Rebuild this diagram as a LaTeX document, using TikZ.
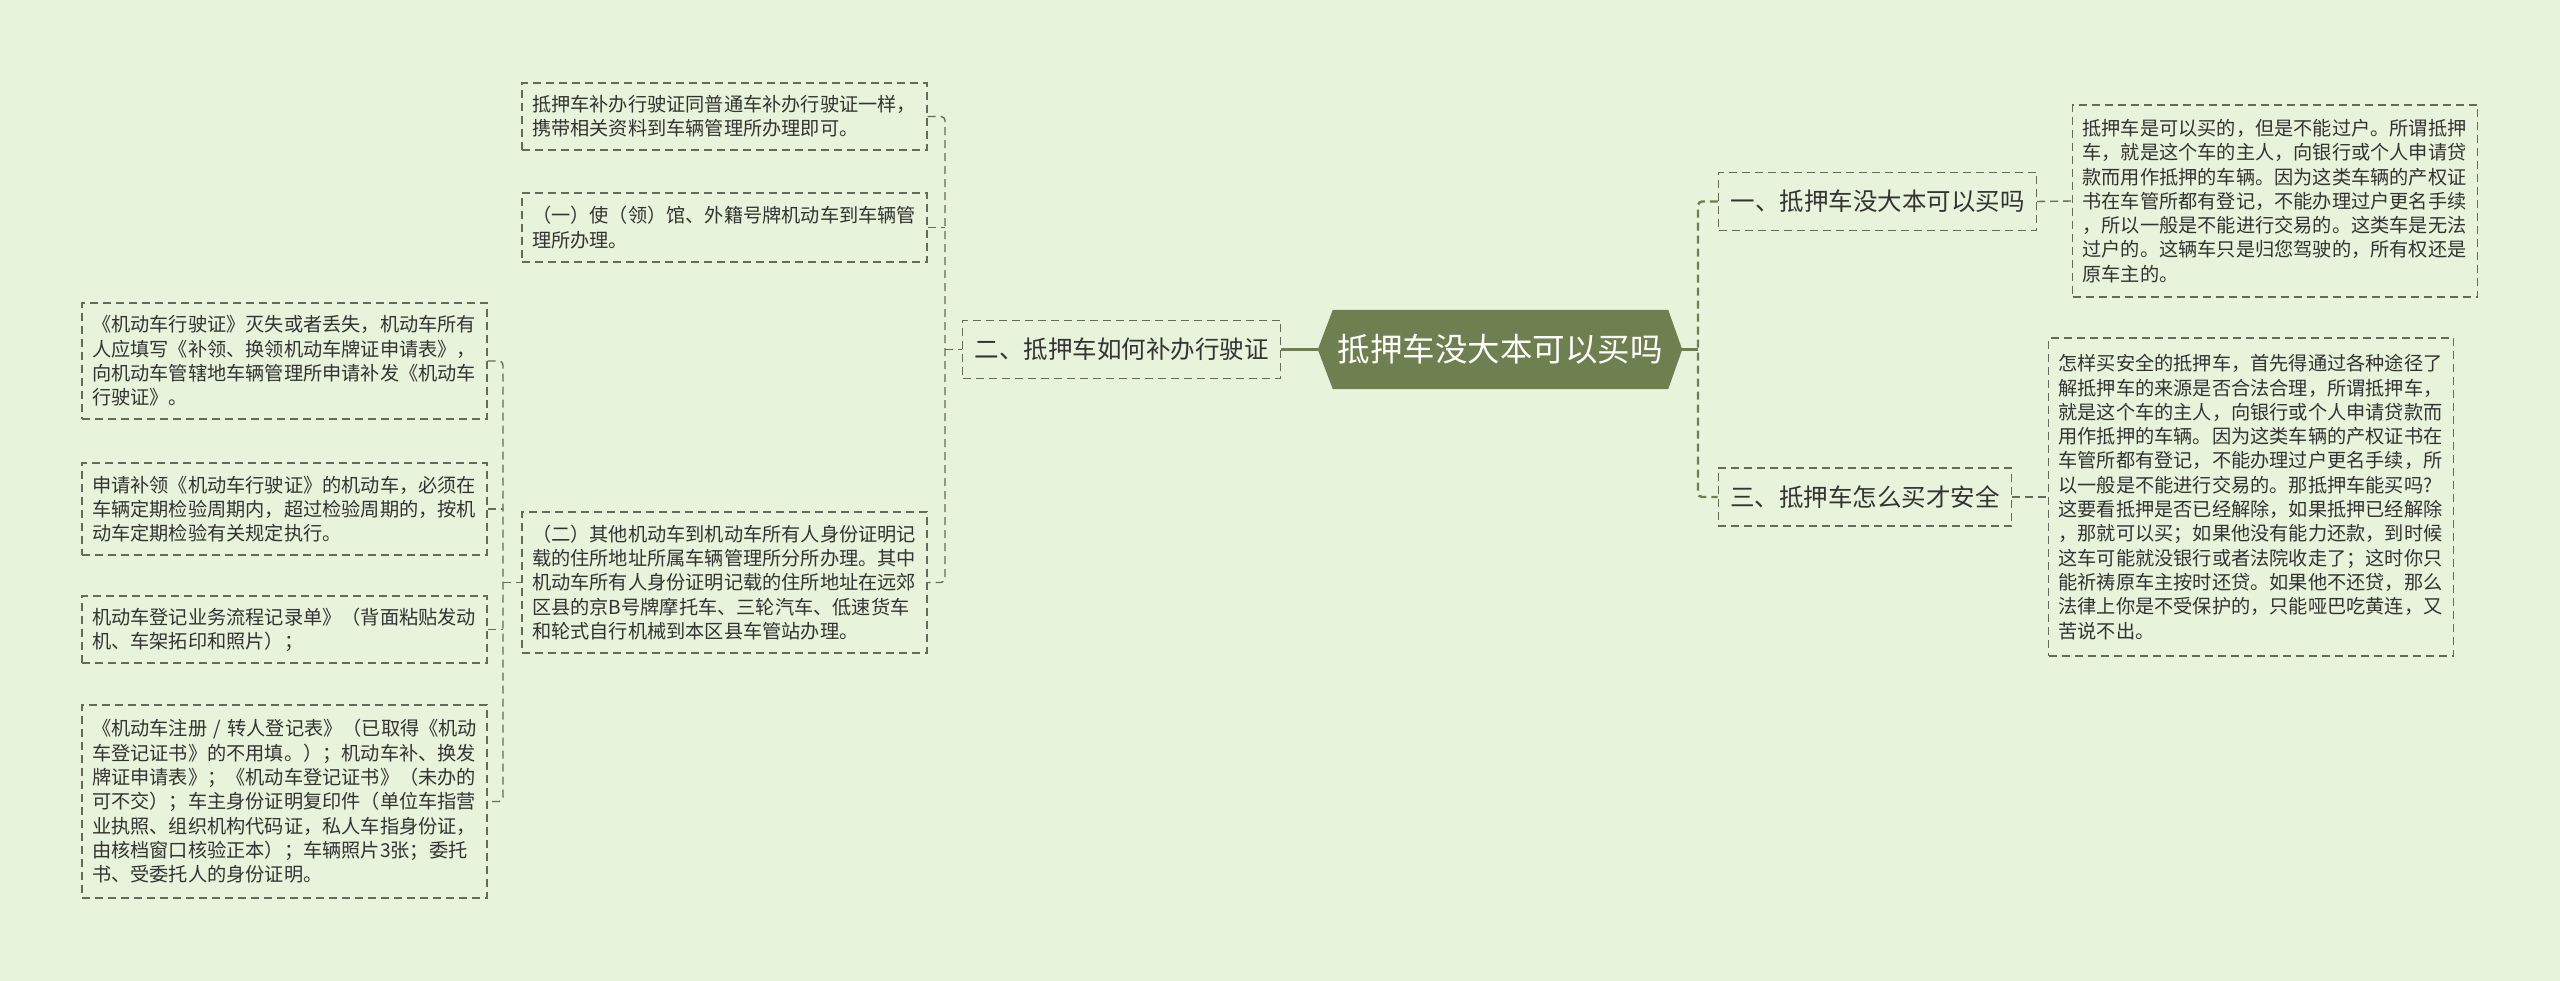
\documentclass[tikz,border=0pt]{standalone}
\usepackage{fontspec}
\setmainfont{Noto Sans CJK SC}
\usetikzlibrary{backgrounds}
\definecolor{bgc}{HTML}{E7F3DA}
\definecolor{olive}{HTML}{6E7F50}
\definecolor{boxline}{HTML}{646B5C}
\definecolor{txt}{HTML}{333333}
\begin{document}
\begin{tikzpicture}[x=1pt, y=-1pt,
  every node/.style={text=txt, inner sep=0pt},
  leaf/.style={draw=boxline, line width=1.3pt, dash pattern=on 8pt off 5pt, text width=385pt, align=left, inner xsep=10pt, font=\fontsize{19.2}{24.3}\selectfont},
  topic/.style={draw=boxline, line width=1.3pt, dash pattern=on 8pt off 5pt, minimum height=58pt, inner xsep=12pt, font=\fontsize{24.5}{28}\selectfont},
  link/.style={olive, line width=2.5pt},
  bracket/.style={olive, line width=2.4pt, dash pattern=on 8pt off 5pt, rounded corners=4pt},
  twig/.style={boxline, line width=1.4pt, dash pattern=on 8pt off 5pt, rounded corners=4pt}]
\useasboundingbox (0,0) rectangle (2560,981);
\begin{scope}[on background layer]
\fill[bgc] (0,0) rectangle (2560,981);
\end{scope}
\node[font=\fontsize{32.5}{36}\selectfont, text=white, minimum width=364pt, minimum height=79pt] (root) at (1500,349.5) {抵押车没大本可以买吗};
\begin{scope}[on background layer]
\fill[olive] (root.west) -- ([xshift=15pt]root.north west) -- ([xshift=-14pt]root.north east) -- (root.east) -- ([xshift=-14pt]root.south east) -- ([xshift=15pt]root.south west) -- cycle;
\end{scope}
\node[topic] (b1) at (1877.5,201.5) {一、抵押车没大本可以买吗};
\node[topic] (b2) at (1121.5,349.5) {二、抵押车如何补办行驶证};
\node[topic] (b3) at (1865,497) {三、抵押车怎么买才安全};
\node[leaf, minimum height=192pt] (r1) at (2275,201) {抵押车是可以买的，但是不能过户。所谓抵押\\车，就是这个车的主人，向银行或个人申请贷\\款而用作抵押的车辆。因为这类车辆的产权证\\书在车管所都有登记，不能办理过户更名手续\\，所以一般是不能进行交易的。这类车是无法\\过户的。这辆车只是归您驾驶的，所有权还是\\原车主的。};
\node[leaf, minimum height=318pt] (r2) at (2251,497) {怎样买安全的抵押车，首先得通过各种途径了\\解抵押车的来源是否合法合理，所谓抵押车，\\就是这个车的主人，向银行或个人申请贷款而\\用作抵押的车辆。因为这类车辆的产权证书在\\车管所都有登记，不能办理过户更名手续，所\\以一般是不能进行交易的。那抵押车能买吗?\\这要看抵押是否已经解除，如果抵押已经解除\\，那就可以买；如果他没有能力还款，到时候\\这车可能就没银行或者法院收走了；这时你只\\能祈祷原车主按时还贷。如果他不还贷，那么\\法律上你是不受保护的，只能哑巴吃黄连，又\\苦说不出。};
\node[leaf, minimum height=67pt] (s1) at (724.5,116.5) {抵押车补办行驶证同普通车补办行驶证一样，\\携带相关资料到车辆管理所办理即可。};
\node[leaf, minimum height=69pt] (s2) at (724.5,227.5) {（一）使（领）馆、外籍号牌机动车到车辆管\\理所办理。};
\node[leaf, minimum height=141pt] (s3) at (724.5,582.5) {（二）其他机动车到机动车所有人身份证明记\\载的住所地址所属车辆管理所分所办理。其中\\机动车所有人身份证明记载的住所地址在远郊\\区县的京B号牌摩托车、三轮汽车、低速货车\\和轮式自行机械到本区县车管站办理。};
\node[leaf, minimum height=116pt] (l1) at (284.5,361) {《机动车行驶证》灭失或者丢失，机动车所有\\人应填写《补领、换领机动车牌证申请表》，\\向机动车管辖地车辆管理所申请补发《机动车\\行驶证》。};
\node[leaf, minimum height=92pt] (l2) at (284.5,509) {申请补领《机动车行驶证》的机动车，必须在\\车辆定期检验周期内，超过检验周期的，按机\\动车定期检验有关规定执行。};
\node[leaf, minimum height=67pt] (l3) at (284.5,629.5) {机动车登记业务流程记录单》（背面粘贴发动\\机、车架拓印和照片）；};
\node[leaf, minimum height=193pt] (l4) at (284.5,801.5) {《机动车注册~/~转人登记表》（已取得《机动\\车登记证书》的不用填。）；机动车补、换发\\牌证申请表》；《机动车登记证书》（未办的\\可不交）；车主身份证明复印件（单位车指营\\业执照、组织机构代码证，私人车指身份证，\\由核档窗口核验正本）；车辆照片3张；委托\\书、受委托人的身份证明。};
\coordinate (rj) at (1698,349.5);
\coordinate (lj) at (945,349.5);
\coordinate (qj) at (503,582.5);
\draw[link] (root.west) -- (b2.east);
\draw[link] (root.east) -- (rj);
\draw[bracket] (b1.west) -| (rj) |- (b3.west);
\draw[twig] (b1.east) -- (r1.west);
\draw[twig] (b3.east) -- (r2.west);
\draw[twig] (lj) -- (b2.west);
\draw[twig] (s1.east) -| (lj) |- (s3.east);
\draw[twig] (s2.east) -- (s2.east -| lj);
\draw[twig] (qj) -- (s3.west);
\draw[twig] (l1.east) -| (qj) |- (l4.east);
\draw[twig] (l2.east) -- (l2.east -| qj);
\draw[twig] (l3.east) -- (l3.east -| qj);
\end{tikzpicture}
\end{document}
